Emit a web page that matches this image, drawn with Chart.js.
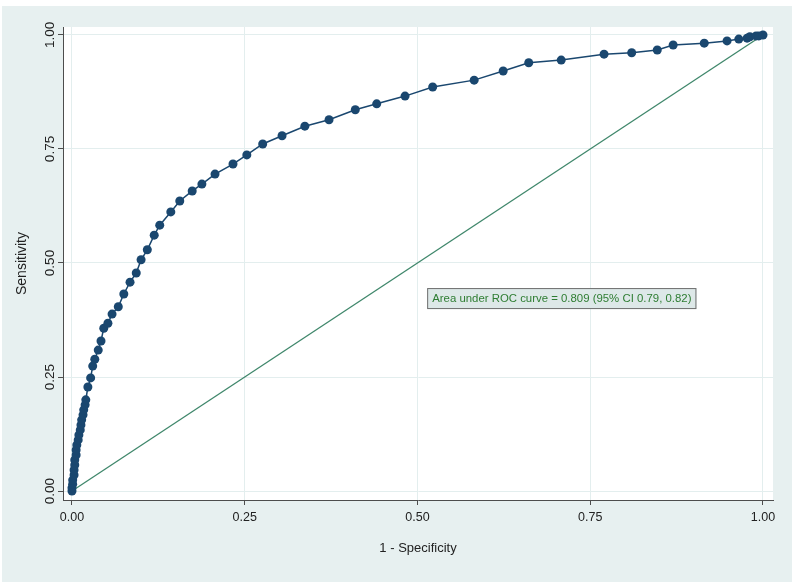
<!DOCTYPE html>
<html>
<head>
<meta charset="utf-8">
<script src="https://cdn.jsdelivr.net/npm/chart.js@4"></script>
<style>
  body { margin: 0; background: #ffffff; }
  #wrap { position: absolute; left: 2px; top: 6px; width: 790px; height: 576px; background: #e7f0f0; }
</style>
</head>
<body>
<div id="wrap"><canvas id="roc" width="790" height="576"></canvas></div>
<script>
// ROC curve points (1 - specificity, sensitivity)
const fpr = [0, 0.000, 0.001, 0.001, 0.003, 0.003, 0.004, 0.004, 0.006, 0.006, 0.007, 0.009, 0.010, 0.012,
  0.013, 0.014, 0.016, 0.017, 0.019, 0.020, 0.023, 0.027, 0.030, 0.033, 0.038, 0.042, 0.046, 0.052, 0.058,
  0.067, 0.075, 0.084, 0.093, 0.100, 0.109, 0.119, 0.127, 0.143, 0.156, 0.174, 0.188, 0.207, 0.233, 0.253,
  0.276, 0.304, 0.337, 0.372, 0.410, 0.441, 0.482, 0.522, 0.582, 0.624, 0.661, 0.708, 0.770, 0.810, 0.847,
  0.870, 0.915, 0.948, 0.965, 0.977, 0.981, 0.990, 0.994, 1];
const sens = [0, 0.007, 0.015, 0.024, 0.035, 0.046, 0.057, 0.068, 0.079, 0.090, 0.101, 0.112, 0.123, 0.134,
  0.145, 0.156, 0.167, 0.178, 0.189, 0.200, 0.228, 0.248, 0.274, 0.289, 0.309, 0.329, 0.357, 0.368, 0.388,
  0.404, 0.432, 0.458, 0.478, 0.507, 0.529, 0.561, 0.583, 0.612, 0.636, 0.658, 0.673, 0.695, 0.717, 0.737,
  0.761, 0.779, 0.800, 0.814, 0.836, 0.849, 0.866, 0.886, 0.901, 0.921, 0.939, 0.945, 0.958, 0.961, 0.967,
  0.978, 0.982, 0.987, 0.991, 0.993, 0.996, 0.998, 0.998, 1];
// reference (chance) line
const refX = [0, 1];
const refY = [0, 1];
const tickVals = [0, 0.25, 0.5, 0.75, 1];
const aucText = 'Area under ROC curve = 0.809 (95% CI 0.79, 0.82)';

const FONT = '"Liberation Sans", Arial, sans-serif';
const axisColor = '#4d4d4d';
const gridColor = '#e3eeee';

// white plot region
const plotBg = {
  id: 'plotBg',
  beforeDraw(chart) {
    const { ctx, chartArea: a } = chart;
    ctx.save();
    ctx.fillStyle = '#ffffff';
    ctx.fillRect(a.left, a.top, a.right - a.left, a.bottom - a.top);
    ctx.restore();
  }
};

// AUC text box
const aucBox = {
  id: 'aucBox',
  afterDatasetsDraw(chart) {
    const { ctx, scales } = chart;
    const x = scales.x.getPixelForValue(0.514);
    const y = scales.y.getPixelForValue(0.422);
    ctx.save();
    ctx.font = '11.4px ' + FONT;
    const w = ctx.measureText(aucText).width;
    ctx.fillStyle = '#dde8e8';
    ctx.strokeStyle = '#6e6e6e';
    ctx.lineWidth = 1;
    ctx.fillRect(x, y - 10.5, w + 10, 21);
    ctx.strokeRect(x + 0.5, y - 10, w + 9, 20);
    ctx.fillStyle = '#2e7d32';
    ctx.textBaseline = 'middle';
    ctx.fillText(aucText, x + 5, y + 0.5);
    ctx.restore();
  }
};

const setTicks = scale => { scale.ticks = tickVals.map(v => ({ value: v })); };
const fmt = v => v.toFixed(2);

new Chart(document.getElementById('roc'), {
  type: 'scatter',
  data: {
    datasets: [
      {
        data: fpr.map((v, i) => ({ x: v, y: sens[i] })),
        showLine: true,
        borderColor: '#1a476f',
        backgroundColor: '#1a476f',
        borderWidth: 1.5,
        pointRadius: 4.5,
        pointBorderWidth: 0
      },
      {
        data: refX.map((v, i) => ({ x: v, y: refY[i] })),
        showLine: true,
        borderColor: '#3f876b',
        borderWidth: 1.3,
        pointRadius: 0
      }
    ]
  },
  options: {
    responsive: false,
    animation: false,
    layout: { padding: { left: 8, top: 21, right: 19, bottom: 20 } },
    plugins: { legend: { display: false }, tooltip: { enabled: false } },
    scales: {
      x: {
        type: 'linear',
        min: -0.013,
        max: 1.0145,
        afterBuildTicks: setTicks,
        afterFit: s => { s.height = 62; },
        grid: { color: gridColor, tickColor: axisColor, tickLength: 5 },
        border: { color: axisColor, width: 1 },
        ticks: { callback: fmt, color: '#222', padding: 5, font: { family: FONT, size: 12.5 } },
        title: { display: true, text: '1 - Specificity', color: '#222', padding: { bottom: 6 }, font: { family: FONT, size: 13 } }
      },
      y: {
        type: 'linear',
        min: -0.0197,
        max: 1.0175,
        afterBuildTicks: setTicks,
        afterFit: s => { s.width = 53; },
        grid: { color: gridColor, tickColor: axisColor, tickLength: 5 },
        border: { color: axisColor, width: 1 },
        ticks: { callback: fmt, color: '#222', minRotation: 90, maxRotation: 90, crossAlign: 'center', padding: -5, font: { family: FONT, size: 13.5 } },
        title: { display: true, text: 'Sensitivity', color: '#222', padding: { top: 4 }, font: { family: FONT, size: 14 } }
      }
    }
  },
  plugins: [plotBg, aucBox]
});
</script>
</body>
</html>
